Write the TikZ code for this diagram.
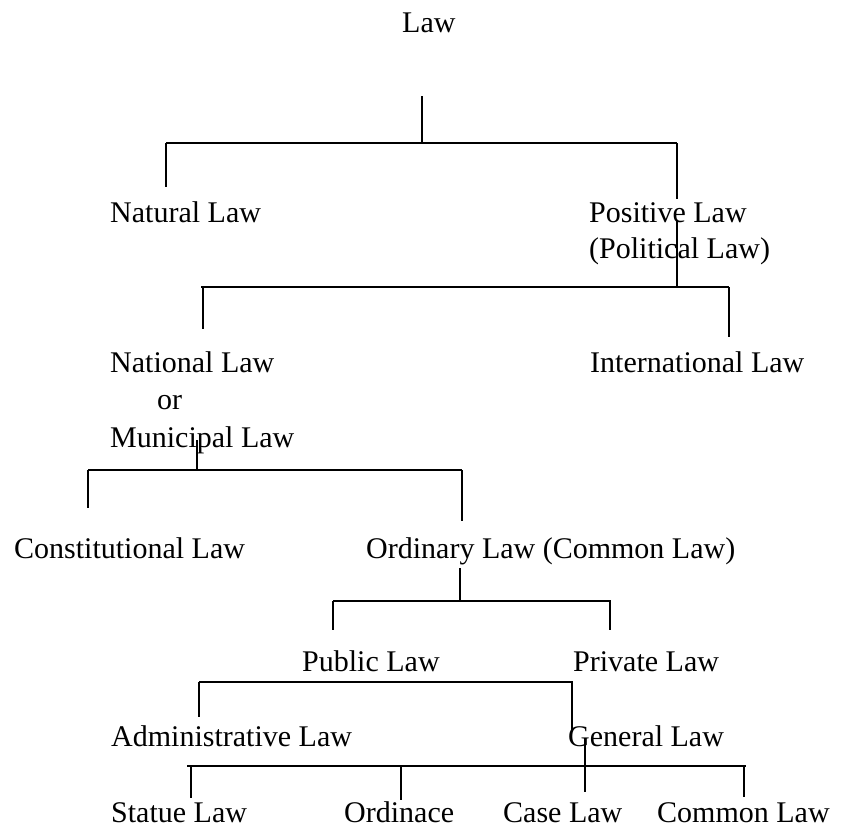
\documentclass[tikz,border=0pt]{standalone}
\usepackage{fontspec}
\setmainfont{Liberation Serif}
\usetikzlibrary{positioning}
\tikzset{
  lbl/.style={anchor=base west,inner sep=0pt,font=\fontsize{30}{36}\selectfont},
  bar/.style={line width=1.8pt}
}
\begin{document}
\begin{tikzpicture}[x=1pt,y=-1pt]
\useasboundingbox (0,0) rectangle (842,827);
% labels
\node[lbl] (law) at (402,32) {Law};
\node[lbl] (natural) at (110,222) {Natural Law};
\node[lbl] (positive) at (589,222) {Positive Law};
\node[lbl] (political) at (589,258) {(Political Law)};
\node[lbl] (national) at (110,372) {National Law};
\node[lbl] (or) at (157,409) {or};
\node[lbl] (municipal) at (110,447) {Municipal Law};
\node[lbl] (international) at (590,372) {International Law};
\node[lbl] (constitutional) at (14,558) {Constitutional Law};
\node[lbl] (ordinary) at (366,558) {Ordinary Law (Common Law)};
\node[lbl] (public) at (302,671) {Public Law};
\node[lbl] (private) at (573,671) {Private Law};
\node[lbl] (admin) at (111,746) {Administrative Law};
\node[lbl] (general) at (568,746) {General Law};
\node[lbl] (statue) at (111,822) {Statue Law};
\node[lbl] (ordinace) at (344,822) {Ordinace};
\node[lbl] (caselaw) at (503,822) {Case Law};
\node[lbl] (common) at (657,822) {Common Law};
% bars
\path (166,143) coordinate (bl1) (677,143) coordinate (br1)
      (201,287) coordinate (bl2) (729,287) coordinate (br2)
      (88,470)  coordinate (bl3) (462,470) coordinate (br3)
      (333,601) coordinate (bl4) (611,601) coordinate (br4)
      (199,682) coordinate (bl5) (573,682) coordinate (br5)
      (187,766) coordinate (bl6) (746,766) coordinate (br6);
% stems and drops
\path (422,96)  coordinate (law-s)       (677,220) coordinate (positive-s)
      (197,440) coordinate (municipal-s) (460,568) coordinate (ordinary-s)
      (585,743) coordinate (general-s);
\path (166,187) coordinate (natural-t)   (677,199) coordinate (positive-t)
      (203,329) coordinate (national-t)  (729,337) coordinate (international-t)
      (88,508)  coordinate (constitutional-t) (462,521) coordinate (ordinary-t)
      (333,630) coordinate (public-t)    (610,630) coordinate (private-t)
      (199,717) coordinate (admin-t)     (572,730) coordinate (general-t)
      (191,798) coordinate (statue-t)    (401,800) coordinate (ordinace-t)
      (585,792) coordinate (caselaw-t)   (744,797) coordinate (common-t);
\foreach \n in {1,...,6}
  \draw[bar] (bl\n) -- (br\n);
\foreach \c/\b in {law/bl1,positive/bl2,municipal/bl3,ordinary/bl4}
  \draw[bar] (\c-s) -- (\c-s |- \b);
\draw[bar] (general-s) -- (caselaw-t);
\foreach \c/\b in {natural/bl1,positive/br1,national/bl2,international/br2,
  constitutional/bl3,ordinary/br3,public/bl4,private/br4,admin/bl5,general/br5,
  statue/bl6,ordinace/bl6,common/bl6}
  \draw[bar] (\c-t |- \b) -- (\c-t);
\end{tikzpicture}
\end{document}
